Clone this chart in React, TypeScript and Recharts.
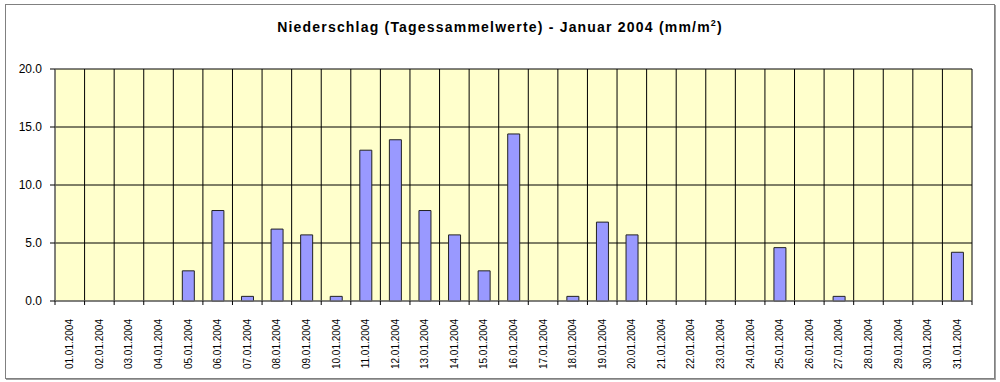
import { Bar, BarChart, CartesianGrid, XAxis, YAxis } from "recharts";

const DAYS = [
  "01.01.2004", "02.01.2004", "03.01.2004", "04.01.2004", "05.01.2004", "06.01.2004",
  "07.01.2004", "08.01.2004", "09.01.2004", "10.01.2004", "11.01.2004", "12.01.2004",
  "13.01.2004", "14.01.2004", "15.01.2004", "16.01.2004", "17.01.2004", "18.01.2004",
  "19.01.2004", "20.01.2004", "21.01.2004", "22.01.2004", "23.01.2004", "24.01.2004",
  "25.01.2004", "26.01.2004", "27.01.2004", "28.01.2004", "29.01.2004", "30.01.2004",
  "31.01.2004",
];
const RAIN = [
  0, 0, 0, 0, 2.6, 7.8, 0.4, 6.2, 5.7, 0.4, 13.0, 13.9, 7.8, 5.7, 2.6, 14.4,
  0, 0.4, 6.8, 5.7, 0, 0, 0, 0, 4.6, 0, 0.4, 0, 0, 0, 4.2,
];
const Y_TICKS = [0, 5, 10, 15, 20];
// boundaries between days, used for the vertical grid lines and axis ticks
const BOUNDS = Array.from({ length: DAYS.length + 1 }, (_, i) => i);

const data = DAYS.map((day, i) => ({ day, rain: RAIN[i], pos: i + 0.5 }));

const FONT = "'Liberation Sans', Arial, sans-serif";

function DayTick({ x, y, payload }: any) {
  return (
    <text
      x={0}
      y={0}
      transform={`translate(${x + 3.5},${y + 9}) rotate(-90)`}
      textAnchor="end"
      fontSize={10}
      fontFamily={FONT}
      fill="#000"
    >
      {payload.value}
    </text>
  );
}

const NoLabel = () => <g />;

export default function App() {
  return (
    <div style={{ position: "absolute", left: 0, top: 0, width: 1000, height: 382, background: "#fff" }}>
      <div
        style={{
          position: "absolute",
          left: 5,
          top: 4,
          width: 988,
          height: 373,
          border: "1px solid #808080",
          boxShadow: "1px 1px 0 #a0a0a0",
        }}
      />
      <div
        style={{
          position: "absolute",
          left: 0,
          width: 1000,
          top: 18,
          textAlign: "center",
          fontFamily: FONT,
          fontWeight: "bold",
          fontSize: 14,
          letterSpacing: 1.2,
          color: "#000",
        }}
      >
        Niederschlag (Tagessammelwerte) - Januar 2004 (mm/m<sup style={{ fontSize: 9 }}>2</sup>)
      </div>
      <div style={{ position: "absolute", left: 0, top: 0 }}>
        <BarChart
          width={1000}
          height={382}
          data={data}
          margin={{ top: 69, right: 28, left: 10, bottom: 11 }}
          barSize={12}
        >
          <CartesianGrid
            xAxisId="bounds"
            stroke="#000"
            strokeWidth={1}
            fill="#ffffcc"
            fillOpacity={1}
          />
          <XAxis
            xAxisId="bounds"
            dataKey="pos"
            type="number"
            domain={[0, DAYS.length]}
            ticks={BOUNDS}
            interval={0}
            tick={NoLabel}
            tickSize={4}
            height={1}
            axisLine={{ stroke: "#808080" }}
            tickLine={{ stroke: "#000" }}
          />
          <XAxis
            xAxisId="days"
            dataKey="day"
            interval={0}
            tick={<DayTick />}
            tickLine={false}
            axisLine={false}
            height={69}
          />
          <YAxis
            domain={[0, 20]}
            ticks={Y_TICKS}
            tickFormatter={(v: number) => v.toFixed(1)}
            width={45}
            tickSize={5}
            tickMargin={8}
            tick={{ fontSize: 12, fill: "#000", fontFamily: FONT }}
            axisLine={{ stroke: "#808080" }}
            tickLine={{ stroke: "#000" }}
          />
          <Bar
            xAxisId="days"
            dataKey="rain"
            fill="#9999ff"
            stroke="#222"
            strokeWidth={1}
            isAnimationActive={false}
          />
        </BarChart>
      </div>
    </div>
  );
}
